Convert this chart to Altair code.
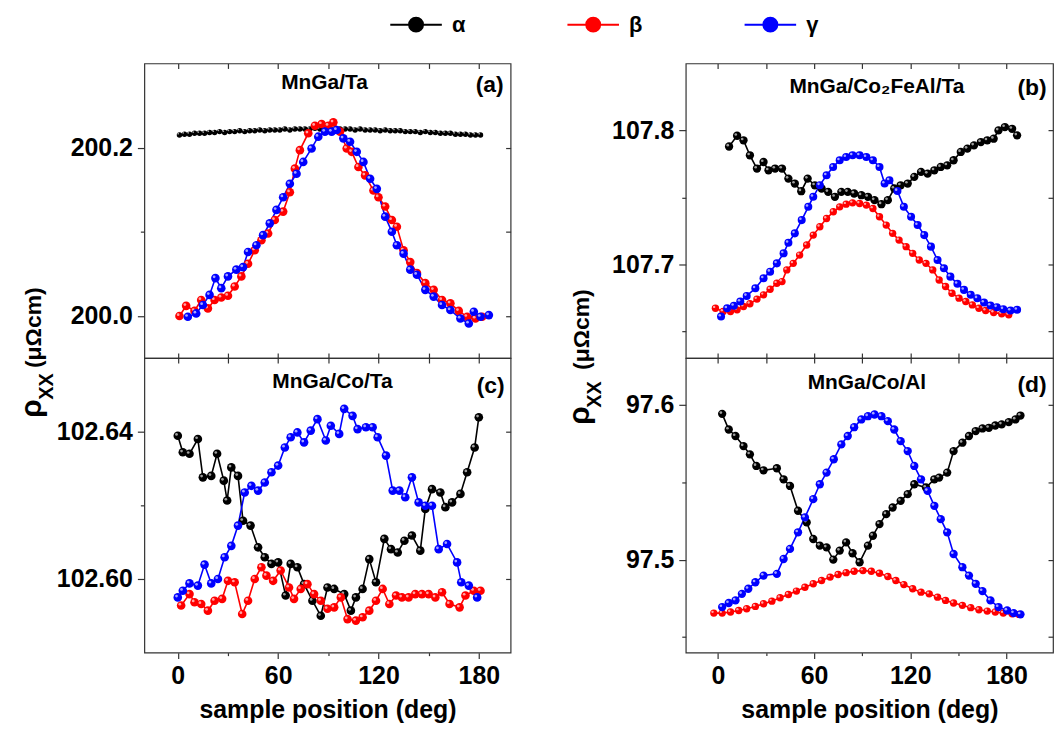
import altair as alt
import pandas as pd

SERIES = ["α", "β", "γ"]
COLORS = ["#000000", "#ff0000", "#0000ff"]
HILITE = ["#b0b0b0", "#ffb8b8", "#b8b8ff"]

PANEL_TITLES = ["MnGa/Ta", "MnGa/Co/Ta", "MnGa/Co\u2082FeAl/Ta", "MnGa/Co/Al"]
PANEL_TAGS = ["(a)", "(c)", "(b)", "(d)"]
X_TITLE = "sample position (deg)"
Y_TITLE_PARTS = ["ρ", "XX", "(μΩcm)"]

X_MAJOR = [0, 60, 120, 180]
X_MINOR = [30, 90, 150]
X_ALL = [0, 30, 60, 90, 120, 150, 180]

A_Y_MAJOR = [200.0, 200.2]
A_Y_MINOR = [200.1]
C_Y_MAJOR = [102.60, 102.64]
C_Y_MINOR = [102.62]
B_Y_MAJOR = [107.7, 107.8]
B_Y_MINOR = [107.65, 107.75]
D_Y_MAJOR = [97.5, 97.6]
D_Y_MINOR = [97.45, 97.55]

# ---------------- panel (a) MnGa/Ta ----------------
a_alpha_x = [1, 4, 7, 10, 13, 16, 19, 22, 25, 28, 31, 34, 37, 40, 43, 46, 49, 52, 55, 58,
             61, 64, 67, 70, 73, 76, 79, 82, 85, 88, 91, 94, 97, 100, 103, 106, 109, 112, 115, 118,
             121, 124, 127, 130, 133, 136, 139, 142, 145, 148, 151, 154, 157, 160, 163, 166, 169, 172, 175, 178, 181]
a_alpha_y = [200.215, 200.216, 200.216, 200.217, 200.217, 200.217, 200.218, 200.218, 200.219, 200.218,
             200.219, 200.219, 200.220, 200.219, 200.220, 200.220, 200.221, 200.220, 200.221, 200.221,
             200.221, 200.222, 200.221, 200.222, 200.222, 200.222, 200.222, 200.223, 200.222, 200.222,
             200.223, 200.222, 200.222, 200.222, 200.222, 200.221, 200.222, 200.221, 200.221, 200.221,
             200.220, 200.221, 200.220, 200.220, 200.220, 200.219, 200.219, 200.219, 200.218, 200.219,
             200.218, 200.218, 200.217, 200.217, 200.217, 200.216, 200.216, 200.216, 200.215, 200.215, 200.215]
a_beta_x = [1, 5, 10, 14, 18, 22, 26, 30, 34, 38, 42, 46, 50, 54, 58, 63, 67, 70, 73, 78,
            82, 86, 90, 93, 97, 101, 104, 108, 112, 117, 120, 124, 128, 131, 135, 139, 143, 148, 153, 158,
            163, 168, 173, 178, 182]
a_beta_y = [200.000, 200.012, 200.006, 200.019, 200.009, 200.019, 200.022, 200.024, 200.035, 200.047,
            200.062, 200.078, 200.090, 200.098, 200.114, 200.124, 200.147, 200.175, 200.197, 200.217,
            200.226, 200.228, 200.226, 200.230, 200.219, 200.199, 200.195, 200.177, 200.167, 200.149,
            200.141, 200.130, 200.114, 200.106, 200.078, 200.064, 200.051, 200.039, 200.031, 200.019,
            200.015, 200.006, 199.999, 199.997, 199.999]
a_gamma_x = [6, 11, 15, 19, 22.5, 26, 30, 35, 39, 42, 47, 51, 55, 59, 63, 67, 71, 75, 80, 84,
             88, 92, 95, 99, 103, 107, 111, 115, 119, 124, 128, 131, 135, 139, 143, 148, 153, 158, 163, 169,
             174, 177, 181, 186]
a_gamma_y = [199.999, 200.003, 200.013, 200.025, 200.045, 200.033, 200.047, 200.055, 200.058, 200.076,
             200.084, 200.096, 200.110, 200.126, 200.141, 200.157, 200.169, 200.183, 200.199, 200.213,
             200.219, 200.219, 200.221, 200.211, 200.207, 200.195, 200.183, 200.163, 200.151, 200.118,
             200.100, 200.084, 200.074, 200.055, 200.049, 200.031, 200.023, 200.013, 200.007, 199.997,
             199.991, 200.005, 199.999, 200.001]

# ---------------- panel (c) MnGa/Co/Ta ----------------
c_alpha_x = [0, 3, 7, 12, 15, 20, 23.5, 27.5, 29.5, 32, 36, 39, 43.5, 48, 52, 56, 60, 64.5, 67.5, 71.5,
             75.5, 80.5, 85.5, 89.5, 93.5, 99.5, 103.5, 106.5, 110.5, 114.5, 118.5, 123.5, 127.5, 131.5, 135.5,
             140, 145, 148, 152, 157, 160, 164, 169, 173, 177.5, 180]
c_alpha_y = [102.6389, 102.6344, 102.6340, 102.6380, 102.6276, 102.6280, 102.6340, 102.6267, 102.6213, 102.6303,
             102.6280, 102.6158, 102.6145, 102.6086, 102.6059, 102.6041, 102.6045, 102.5955, 102.6041, 102.6032,
             102.5986, 102.5941, 102.5900, 102.5977, 102.5973, 102.5959, 102.5914, 102.5950, 102.5973, 102.6054,
             102.5991, 102.6109, 102.6081, 102.6072, 102.6104, 102.6118, 102.6077, 102.6190, 102.6244, 102.6235,
             102.6195, 102.6208, 102.6231, 102.6290, 102.6357, 102.6439]
c_beta_x = [2, 7, 10, 14, 18, 22, 26.5, 30, 34, 38.5, 42, 46, 50, 53, 57, 61.5, 66.5, 69.5, 73.5, 77.5,
            81.5, 85.5, 89.5, 93.5, 97.5, 101.5, 106.5, 110.5, 114.5, 118.5, 122.5, 126.5, 130.5, 134, 138,
            142, 146, 150, 154, 158, 162.5, 168.5, 172, 177, 181]
c_beta_y = [102.5928, 102.5959, 102.5937, 102.5932, 102.5914, 102.5941, 102.5946, 102.5995, 102.5991, 102.5905,
            102.5941, 102.6000, 102.6032, 102.6009, 102.5995, 102.6023, 102.5977, 102.5946, 102.5973, 102.5986,
            102.5959, 102.5941, 102.5919, 102.5923, 102.5950, 102.5891, 102.5887, 102.5896, 102.5914, 102.5941,
            102.5973, 102.5932, 102.5955, 102.5950, 102.5950, 102.5959, 102.5959, 102.5959, 102.5950, 102.5964,
            102.5932, 102.5923, 102.5955, 102.5968, 102.5968]
c_gamma_x = [0, 3, 7, 12, 16, 20, 24, 28, 32, 36, 40, 44, 48, 52, 56, 60, 64, 67.5, 71.5, 75.5,
             79.5, 83.5, 88.5, 91.5, 96.5, 99.5, 104.5, 107.5, 112.5, 116.5, 119.5, 124.5, 128.5, 132.5, 136,
             140, 144, 148, 152, 156, 161, 167, 169.5, 174, 179]
c_gamma_y = [102.5950, 102.5968, 102.5988, 102.5982, 102.6039, 102.5988, 102.6000, 102.6059, 102.6090, 102.6145,
             102.6235, 102.6253, 102.6240, 102.6262, 102.6290, 102.6308, 102.6357, 102.6385, 102.6398, 102.6371,
             102.6403, 102.6434, 102.6376, 102.6416, 102.6394, 102.6462, 102.6443, 102.6407, 102.6412, 102.6412,
             102.6385, 102.6335, 102.6240, 102.6240, 102.6222, 102.6276, 102.6208, 102.6199, 102.6199, 102.6081,
             102.6095, 102.6045, 102.5991, 102.5982, 102.5950]

# ---------------- panel (b) MnGa/Co2FeAl/Ta ----------------
b_alpha_x = [7, 12, 16, 20, 24.4, 28.5, 31.6, 35.7, 40, 44, 48, 52, 56, 60.5, 64.7, 68.8, 73, 77, 81, 85,
             89.5, 93.6, 97.7, 102, 106, 110, 114, 118.4, 122.5, 126.7, 130.8, 135, 139, 143, 147,
             151.5, 155.6, 159.7, 164, 168, 172, 175, 179, 183.5, 186.6]
b_alpha_y = [107.7880, 107.7960, 107.7926, 107.7814, 107.7715, 107.7764, 107.7702, 107.7715, 107.7715, 107.7640,
             107.7603, 107.7546, 107.7640, 107.7590, 107.7566, 107.7541, 107.7504, 107.7541, 107.7541, 107.7529,
             107.7516, 107.7504, 107.7479, 107.7449, 107.7479, 107.7566, 107.7590, 107.7603, 107.7653, 107.7690,
             107.7677, 107.7702, 107.7727, 107.7739, 107.7777, 107.7839, 107.7864, 107.7888, 107.7913, 107.7926,
             107.7938, 107.8000, 107.8025, 107.8012, 107.7963]
b_beta_x = [-1.5, 3.3, 7.9, 12, 16, 20, 24.4, 28.5, 32.6, 36.8, 40, 43, 47, 51, 55.4, 59.5, 63.6, 67.8, 72, 76,
            80, 84, 88.4, 92.6, 96.7, 100.8, 105, 109, 113, 117.4, 121.5, 125.6, 129.8, 134, 138,
            142, 146, 150.4, 154.6, 158.7, 162.8, 167, 172, 177, 181.4]
b_beta_y = [107.6672, 107.6648, 107.6648, 107.6660, 107.6685, 107.6705, 107.6740, 107.6772, 107.6814, 107.6859,
            107.6871, 107.6958, 107.7007, 107.7069, 107.7144, 107.7218, 107.7280, 107.7342, 107.7392, 107.7429,
            107.7449, 107.7459, 107.7454, 107.7442, 107.7417, 107.7355, 107.7293, 107.7231, 107.7181, 107.7132,
            107.7082, 107.7032, 107.7007, 107.6958, 107.6883, 107.6834, 107.6784, 107.6747, 107.6722, 107.6697,
            107.6672, 107.6655, 107.6640, 107.6630, 107.6623]
b_gamma_x = [2, 5.8, 10, 14, 18, 23.4, 28.5, 32.6, 36.8, 41, 44, 48, 52.3, 56.4, 59.5, 63.6, 67.8, 71.9, 76, 80,
             84, 88.4, 92.6, 96.7, 100.8, 104, 107, 112, 116, 120.5, 124.6, 128.7, 132.9, 137, 141,
             145, 149.4, 153.5, 157.7, 161.8, 166, 170, 174, 178, 182.5, 186.6]
b_gamma_y = [107.6610, 107.6672, 107.6690, 107.6722, 107.6764, 107.6821, 107.6896, 107.6945, 107.7007, 107.7082,
             107.7161, 107.7231, 107.7330, 107.7429, 107.7504, 107.7591, 107.7665, 107.7727, 107.7777, 107.7801,
             107.7814, 107.7814, 107.7801, 107.7777, 107.7727, 107.7603, 107.7628, 107.7548, 107.7429, 107.7355,
             107.7293, 107.7218, 107.7132, 107.7032, 107.6970, 107.6908, 107.6854, 107.6809, 107.6772, 107.6747,
             107.6715, 107.6692, 107.6680, 107.6665, 107.6655, 107.6660]

# ---------------- panel (d) MnGa/Co/Al ----------------
d_alpha_x = [2.7, 6.8, 11, 16, 20, 24, 28.5, 36.8, 41, 45, 50, 55.4, 59.5, 63.6, 67.8, 72, 76, 80, 84, 88.4,
             93.6, 96.7, 100.8, 105, 109, 114, 118.4, 122.5, 129.8, 135, 138, 143, 147, 152.5, 156.6,
             160.8, 165, 169, 173, 177, 181.4, 185.6, 188.7]
d_alpha_y = [97.5940, 97.5839, 97.5797, 97.5732, 97.5679, 97.5604, 97.5576, 97.5589, 97.5518, 97.5475,
             97.5315, 97.5240, 97.5133, 97.5090, 97.5079, 97.5000, 97.5058, 97.5111, 97.5041, 97.4983,
             97.5090, 97.5154, 97.5229, 97.5293, 97.5336, 97.5379, 97.5422, 97.5486, 97.5465, 97.5518,
             97.5529, 97.5561, 97.5700, 97.5754, 97.5797, 97.5829, 97.5846, 97.5850, 97.5865, 97.5872,
             97.5887, 97.5904, 97.5929]
d_beta_x = [-2.5, 2.7, 7.9, 13, 18, 23.4, 28.5, 33.7, 38.8, 44, 49, 54.3, 59.5, 64.7, 70, 75, 80, 85, 90.5, 95.7,
            100.8, 106, 111, 116, 121.5, 126.7, 131.8, 137, 142, 147, 152.5, 157.7, 162.8, 168, 173,
            178, 183.5, 187.6]
d_beta_y = [97.4655, 97.4655, 97.4662, 97.4672, 97.4683, 97.4698, 97.4715, 97.4732, 97.4754, 97.4775,
            97.4797, 97.4822, 97.4844, 97.4865, 97.4887, 97.4904, 97.4916, 97.4925, 97.4929, 97.4925,
            97.4912, 97.4891, 97.4865, 97.4839, 97.4812, 97.4790, 97.4779, 97.4758, 97.4737, 97.4720,
            97.4705, 97.4690, 97.4677, 97.4668, 97.4662, 97.4655, 97.4651, 97.4647]
d_gamma_x = [2.7, 6.8, 11, 15, 19, 23.4, 28.5, 36.8, 41, 45, 50, 54.3, 59.5, 63.6, 67.8, 72.3, 77, 81, 85, 89.5,
             93.6, 97.7, 102, 106, 110, 114, 118.4, 122.5, 126.7, 130.8, 135, 139, 143, 147, 152.5,
             156.6, 160.8, 165, 170, 175, 180.4, 184.5, 188.7]
d_gamma_y = [97.4694, 97.4720, 97.4737, 97.4779, 97.4812, 97.4854, 97.4897, 97.4908, 97.5004, 97.5069,
             97.5176, 97.5272, 97.5390, 97.5486, 97.5561, 97.5647, 97.5743, 97.5797, 97.5854, 97.5904,
             97.5925, 97.5936, 97.5925, 97.5893, 97.5839, 97.5764, 97.5700, 97.5604, 97.5518, 97.5443,
             97.5347, 97.5261, 97.5176, 97.5036, 97.4951, 97.4897, 97.4844, 97.4797, 97.4737, 97.4694,
             97.4672, 97.4655, 97.4647]

FONT = "Arial"
# circle of radius 1 with a horizontal line through it (scaled by sqrt(size)/2)
LEG_PATH = ("M-3.7,0L-1,0M1,0L3.7,0M-1,0A1,1,0,1,1,1,0A1,1,0,1,1,-1,0Z")

LEGEND = alt.Legend(title=None, orient="none", legendX=262, legendY=-50, direction="horizontal",
                    symbolType=LEG_PATH, symbolSize=196, symbolStrokeWidth=2,
                    labelFont=FONT, labelFontSize=22, labelFontWeight="bold", labelColor="black",
                    labelOffset=25, columnPadding=98)

STROKE_SCALE = alt.Scale(domain=SERIES, range=COLORS)
HI_SCALE = alt.Scale(domain=SERIES, range=HILITE)


def make_df(xs, ys):
    rows = []
    for s, xl, yl in zip(SERIES, xs, ys):
        for i, (x, y) in enumerate(zip(xl, yl)):
            rows.append({"series": s, "x": x, "y": y, "i": i})
    return pd.DataFrame(rows)


def txt(label, x, y, size, angle=0, align="center", baseline="middle"):
    return alt.Chart(pd.DataFrame({"t": [label]})).mark_text(
        font=FONT, fontSize=size, fontWeight="bold", color="black",
        angle=angle, align=align, baseline=baseline).encode(
        text="t:N", x=alt.value(x), y=alt.value(y))


def panel(df, xdom, ydom, w, h, ymaj, ymin, yfmt, bottom, title, tag, title_pos, tag_pos, sizes, ytitle=None):
    xs = alt.Scale(domain=xdom, nice=False, zero=False)
    ys = alt.Scale(domain=ydom, nice=False, zero=False)
    x_top = alt.Axis(values=X_ALL, orient="top", offset=-5, tickSize=5, labels=False, title=None)
    if bottom:
        x_main = alt.Axis(values=X_MAJOR, orient="bottom", tickSize=6, labelPadding=5, format="d",
                          title=X_TITLE, titlePadding=9, titleFontSize=25)
        x_minor = alt.Axis(values=X_MINOR, orient="bottom", tickSize=3, labels=False, title=None)
    else:
        x_main = alt.Axis(values=X_ALL, orient="bottom", offset=-5, tickSize=5, labels=False, title=None)
        x_minor = None
    y_main = alt.Axis(values=ymaj, orient="left", tickSize=7, labelPadding=5, format=yfmt, title=None)
    y_minor = alt.Axis(values=ymin, orient="left", tickSize=4, labels=False, title=None)
    y_right = alt.Axis(values=ymaj + ymin, orient="right", offset=-5, tickSize=5, labels=False, title=None)

    base = alt.Chart(df)
    layers = []
    layers.append(base.mark_line(strokeWidth=1.6).encode(
        x=alt.X("x:Q", scale=xs, axis=x_main),
        y=alt.Y("y:Q", scale=ys, axis=y_main),
        stroke=alt.Stroke("series:N", scale=STROKE_SCALE, legend=LEGEND),
        order="i:Q"))
    layers.append(base.mark_point(opacity=0).encode(
        x=alt.X("x:Q", scale=xs, axis=x_minor),
        y=alt.Y("y:Q", scale=ys, axis=y_minor)))
    layers.append(base.mark_point(opacity=0).encode(
        x=alt.X("x:Q", scale=xs, axis=x_top),
        y=alt.Y("y:Q", scale=ys, axis=y_right)))
    for s, sz in zip(SERIES, sizes):
        sub = base.transform_filter(alt.datum.series == s)
        layers.append(sub.mark_point(filled=True, shape="circle", size=sz, opacity=1).encode(
            x=alt.X("x:Q", scale=xs, axis=None),
            y=alt.Y("y:Q", scale=ys, axis=None),
            fill=alt.Fill("series:N", scale=STROKE_SCALE, legend=LEGEND)))
        layers.append(sub.mark_point(filled=True, shape="circle", size=max(3, sz / 10), opacity=0.9,
                                     xOffset=-1.3, yOffset=-1.3).encode(
            x=alt.X("x:Q", scale=xs, axis=None),
            y=alt.Y("y:Q", scale=ys, axis=None),
            color=alt.Color("series:N", scale=HI_SCALE, legend=None)))
    layers.append(txt(title, title_pos[0], title_pos[1], 21))
    layers.append(txt(tag, tag_pos[0], tag_pos[1], 23))
    if ytitle is not None:
        bx, by, sx, sy, ux, uy = ytitle
        layers.append(txt(Y_TITLE_PARTS[0], bx, by, 30, angle=270, align="left", baseline="alphabetic"))
        layers.append(txt(Y_TITLE_PARTS[1], sx, sy, 20, angle=270, align="left", baseline="alphabetic"))
        layers.append(txt(Y_TITLE_PARTS[2], ux, uy, 23, angle=270, align="left", baseline="alphabetic"))
    return alt.layer(*layers).resolve_axis(x="independent", y="independent").properties(width=w, height=h)


df_a = make_df([a_alpha_x, a_beta_x, a_gamma_x], [a_alpha_y, a_beta_y, a_gamma_y])
df_c = make_df([c_alpha_x, c_beta_x, c_gamma_x], [c_alpha_y, c_beta_y, c_gamma_y])
df_b = make_df([b_alpha_x, b_beta_x, b_gamma_x], [b_alpha_y, b_beta_y, b_gamma_y])
df_d = make_df([d_alpha_x, d_beta_x, d_gamma_x], [d_alpha_y, d_beta_y, d_gamma_y])

LW, RW, PH = 368, 369, 296
LX = [-20, 199]
RX = [-20, 209]

pa = panel(df_a, LX, [199.95, 200.30], LW, PH, A_Y_MAJOR, A_Y_MINOR, ".1f", False,
           PANEL_TITLES[0], PANEL_TAGS[0], (181, 20), (347, 22), [30, 75, 75])
pc = panel(df_c, LX, [102.58, 102.66], LW, PH, C_Y_MAJOR, C_Y_MINOR, ".2f", True,
           PANEL_TITLES[1], PANEL_TAGS[1], (189, 24), (348, 28), [75, 75, 75],
           ytitle=(-104, 60, -92, 42, -104, 10))
pb = panel(df_b, RX, [107.63, 107.85], RW, PH, B_Y_MAJOR, B_Y_MINOR, ".1f", False,
           PANEL_TITLES[2], PANEL_TAGS[2], (192, 24), (348, 25), [70, 55, 65])
pd_ = panel(df_d, RX, [97.44, 97.63], RW, PH, D_Y_MAJOR, D_Y_MINOR, ".1f", True,
            PANEL_TITLES[3], PANEL_TAGS[3], (182, 25), (348, 27), [70, 55, 70],
            ytitle=(-97, 67, -85, 50, -97, 12))

chart = alt.concat(pa, pb, pc, pd_, columns=2, spacing={"row": 0, "column": 176}, bounds="flush").properties(
    padding={"left": 8, "top": 4, "right": 0, "bottom": 0}
).configure_view(
    stroke="#333333", strokeWidth=1.2
).configure_axis(
    grid=False, domain=False, labelColor="black", tickColor="#333333", tickWidth=1.2,
    labelFont=FONT, titleFont=FONT, labelFontWeight="bold", titleFontWeight="bold",
    labelFontSize=25, titleFontSize=25, titleColor="black"
)

chart.save("out.html", embed_options={"renderer": "svg", "actions": False})
